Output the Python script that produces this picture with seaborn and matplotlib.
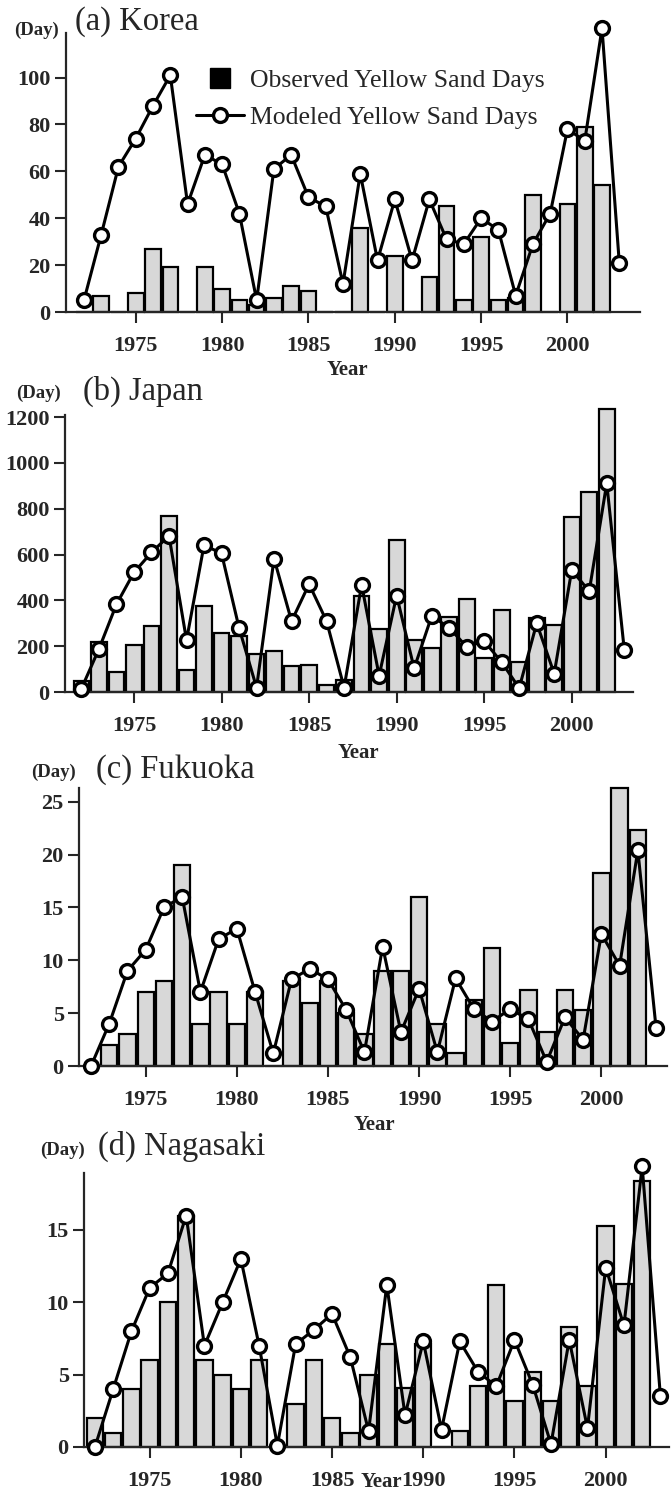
import matplotlib
matplotlib.use("Agg")
import matplotlib.pyplot as plt
from matplotlib.lines import Line2D
import numpy as np
import pandas as pd
import seaborn as sns

# ---------------- data ----------------
obs_years = list(range(1972, 2003))
mod_years = list(range(1972, 2004))

korea_obs = [0, 7, 0, 8, 27, 19, 0, 19, 10, 5, 3, 6, 11, 9, 0, 0, 36, 0, 24, 0,
             15, 45, 5, 32, 5, 6, 50, 0, 46, 79, 54]
korea_mod = [5, 33, 62, 74, 88, 101, 46, 67, 63, 42, 5, 61, 67, 49, 45, 12, 59, 22,
             48, 22, 48, 31, 29, 40, 35, 7, 29, 42, 78, 73, 121, 21]

japan_obs = [50, 220, 87, 207, 290, 770, 95, 375, 258, 243, 168, 178, 114, 120, 32,
             54, 421, 274, 663, 229, 194, 328, 404, 147, 357, 130, 324, 294, 765,
             875, 1235]
japan_mod = [15, 188, 383, 522, 609, 682, 226, 641, 605, 280, 19, 582, 309, 471, 309,
             19, 468, 71, 421, 103, 331, 281, 197, 222, 130, 17, 300, 80, 532, 440,
             911, 185]

fukuoka_obs = [0, 2, 3, 7, 8, 19, 4, 7, 4, 7, 0, 8, 6, 8, 5, 3, 9, 9, 16, 4, 1.2, 6.2,
               11.2, 2.2, 7.2, 3.2, 7.2, 5.3, 18.3, 26.3, 22.3]
fukuoka_mod = [0, 4, 9, 11, 15, 16, 7, 12, 13, 7, 1.2, 8.2, 9.2, 8.2, 5.3, 1.3, 11.3,
               3.2, 7.3, 1.3, 8.3, 5.4, 4.2, 5.4, 4.4, 0.4, 4.6, 2.5, 12.5, 9.5, 20.4,
               3.6]

nagasaki_obs = [2, 1, 4, 6, 10, 16, 6, 5, 4, 6, 0, 3, 6, 2, 1, 5, 7.1, 4.1, 7.1, 0,
                1.1, 4.2, 11.2, 3.2, 5.2, 3.2, 8.3, 4.2, 15.3, 11.3, 18.4]
nagasaki_mod = [0, 4, 8, 11, 12, 16, 7, 10, 13, 7, 0.1, 7.1, 8.1, 9.2, 6.2, 1.1, 11.2,
                2.2, 7.3, 1.2, 7.3, 5.2, 4.2, 7.4, 4.3, 0.2, 7.4, 1.3, 12.4, 8.4, 19.4,
                3.5]

panel_titles = ["(a) Korea", "(b) Japan", "(c) Fukuoka", "(d) Nagasaki"]
x_ticks = [1975, 1980, 1985, 1990, 1995, 2000]
y_ticks = [[0, 20, 40, 60, 80, 100],
           [0, 200, 400, 600, 800, 1000, 1200],
           [0, 5, 10, 15, 20, 25],
           [0, 5, 10, 15]]
legend_labels = ["Observed Yellow Sand Days", "Modeled Yellow Sand Days"]

# ---------------- style ----------------
sns.set_style("ticks")
plt.rcParams["font.family"] = ["Liberation Serif", "DejaVu Serif"]

W, H = 671, 1497
fig = plt.figure(figsize=(W / 100, H / 100), dpi=100)

# layout in pixel units: left, right, zero-line y, top y
layout = [
    dict(l=66, r=640, y0=312, yt=33, ylim=119, xlim=(1970.96, 2004.2),
         lab=(0.49, -0.172), day=(14, 35), tit=(75, 30)),
    dict(l=65, r=633, y0=692, yt=415, ylim=1209, xlim=(1971.06, 2003.5),
         lab=(0.516, -0.184), day=(16, 398), tit=(83, 400)),
    dict(l=79, r=667, y0=1066, yt=788, ylim=26.3, xlim=(1971.34, 2003.6),
         lab=(0.503, -0.176), day=(31, 777), tit=(96, 778)),
    dict(l=84, r=669, y0=1447, yt=1173, ylim=18.94, xlim=(1971.4, 2003.47),
         lab=(0.509, -0.091), day=(40, 1155), tit=(98, 1155)),
]

obs_all = [korea_obs, japan_obs, fukuoka_obs, nagasaki_obs]
mod_all = [korea_mod, japan_mod, fukuoka_mod, nagasaki_mod]

for i, p in enumerate(layout):
    ax = fig.add_axes([p["l"] / W, 1 - p["y0"] / H, (p["r"] - p["l"]) / W,
                       (p["y0"] - p["yt"]) / H])
    df_obs = pd.DataFrame({"Year": obs_years, "Obs": obs_all[i]})
    df_mod = pd.DataFrame({"Year": mod_years, "Mod": mod_all[i]})

    sns.barplot(data=df_obs, x="Year", y="Obs", native_scale=True, width=0.9,
                color="#d8d8d8", saturation=1, edgecolor="black", linewidth=1.6,
                errorbar=None, ax=ax, zorder=2)
    for patch in ax.patches:
        patch.set_clip_on(False)
    sns.lineplot(data=df_mod, x="Year", y="Mod", color="black", linewidth=2.2,
                 marker="o", markersize=10, markerfacecolor="white",
                 markeredgecolor="black", markeredgewidth=2.4, legend=False,
                 ax=ax, zorder=3, clip_on=False)

    ax.set_xlim(*p["xlim"])
    ax.set_ylim(0, p["ylim"])
    ax.set_xticks(x_ticks)
    ax.set_xticklabels([str(t) for t in x_ticks])
    ax.set_yticks(y_ticks[i])
    ax.set_yticklabels([str(t) for t in y_ticks[i]])
    ax.tick_params(axis="x", length=8, width=1.5, pad=9, labelsize=16)
    ax.tick_params(axis="y", length=8, width=1.5, pad=3, labelsize=16)
    for lab in ax.get_xticklabels() + ax.get_yticklabels():
        lab.set_fontweight("bold")
    sns.despine(ax=ax)
    ax.spines["left"].set_linewidth(1.6)
    ax.spines["bottom"].set_linewidth(1.6)
    ax.set_ylabel("")
    ax.set_xlabel("Year", fontsize=15, fontweight="bold")
    ax.xaxis.set_label_coords(*p["lab"])

    fig.text(p["day"][0] / W, 1 - p["day"][1] / H, "(Day)", fontsize=13.5,
             fontweight="bold", ha="left", va="baseline")
    fig.text(p["tit"][0] / W, 1 - p["tit"][1] / H, panel_titles[i], fontsize=23.5,
             ha="left", va="baseline")

    if i == 0:
        handles = [
            Line2D([], [], linestyle="none", marker="s", markersize=15,
                   markerfacecolor="black", markeredgecolor="black"),
            Line2D([], [], color="black", linewidth=2.2, marker="o", markersize=10,
                   markerfacecolor="white", markeredgecolor="black",
                   markeredgewidth=2.4),
        ]
        ax.legend(handles=handles, labels=legend_labels, loc="upper left",
                  bbox_to_anchor=(196 / W, 1 - 69 / H),
                  bbox_transform=fig.transFigure, frameon=False, fontsize=18.5,
                  handlelength=1.85, handletextpad=0.25, labelspacing=0.55,
                  borderpad=0, borderaxespad=0)

fig.savefig("out.png", dpi=100)
